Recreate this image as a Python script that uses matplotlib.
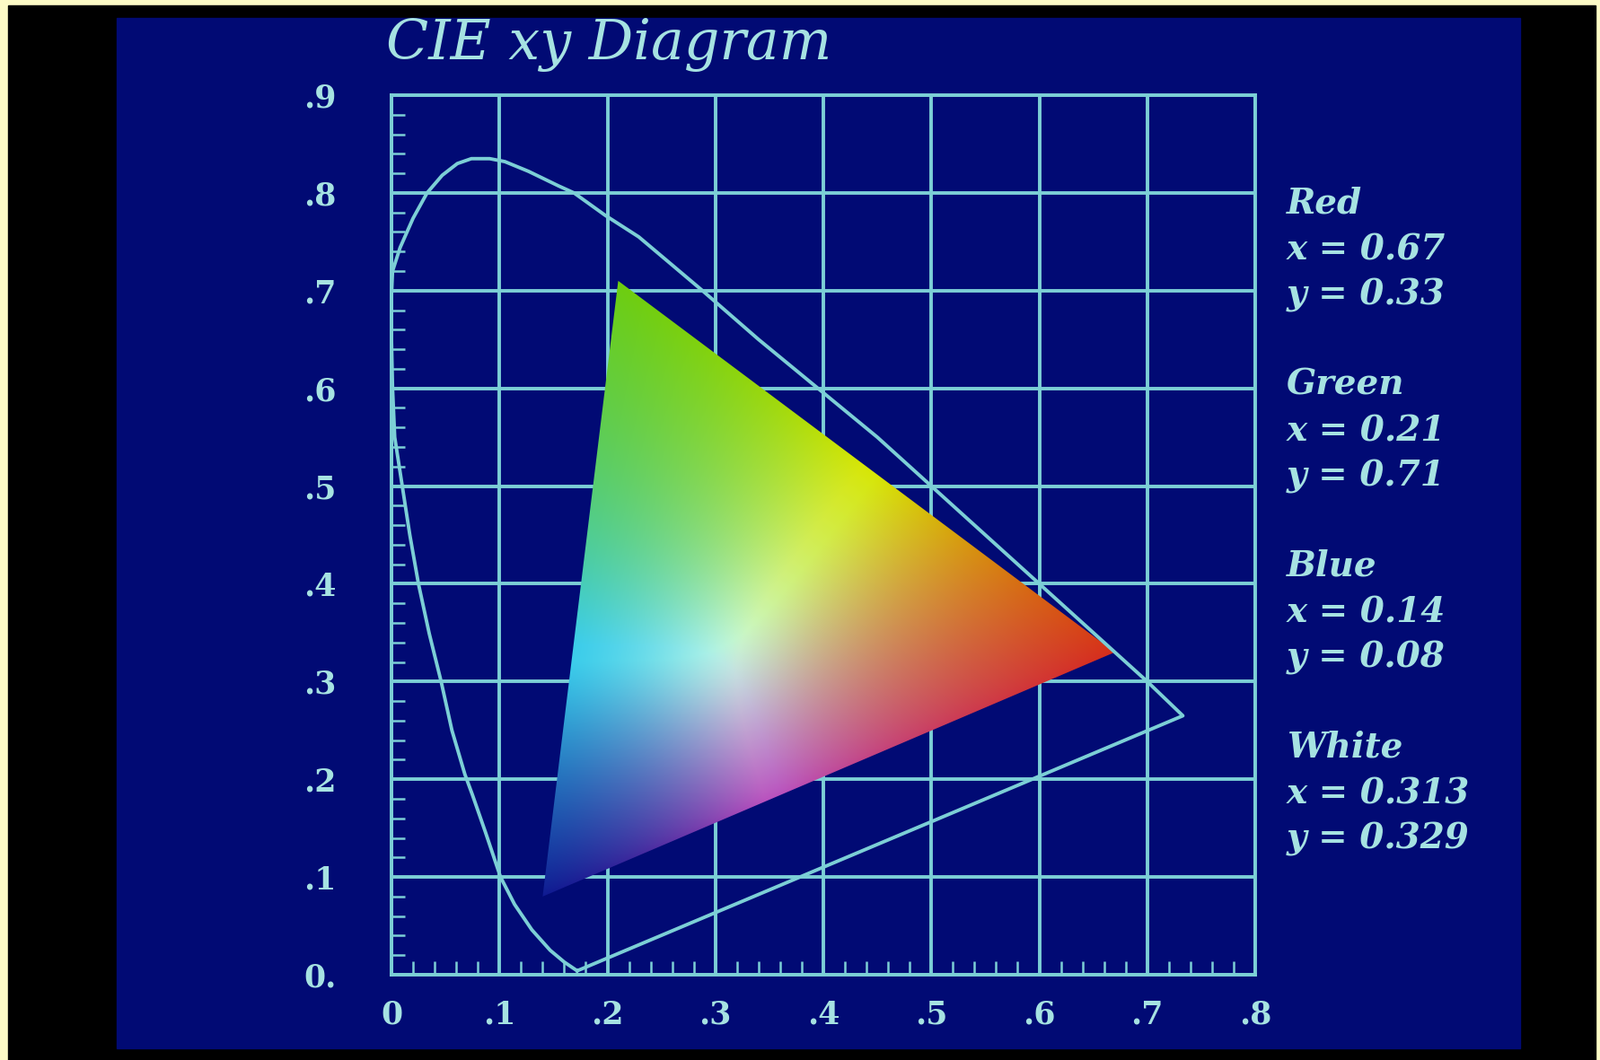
import numpy as np
import matplotlib.pyplot as plt
from matplotlib.patches import Polygon, Rectangle

# spectral locus (blue end -> up the left side -> red end)
locus_x = [0.172, 0.160, 0.147, 0.130, 0.114, 0.101, 0.087, 0.075, 0.068, 0.056,
           0.046, 0.035, 0.025, 0.017, 0.010, 0.003, 0.001, 0.000, 0.000, 0.001,
           0.008, 0.020, 0.033, 0.047, 0.061, 0.074, 0.091, 0.105, 0.127, 0.155,
           0.169, 0.198, 0.229, 0.258, 0.288, 0.340, 0.395, 0.450, 0.500, 0.550,
           0.600, 0.650, 0.700, 0.733]
locus_y = [0.004, 0.013, 0.025, 0.046, 0.072, 0.100, 0.146, 0.184, 0.205, 0.250,
           0.300, 0.349, 0.400, 0.450, 0.500, 0.550, 0.600, 0.650, 0.695, 0.720,
           0.744, 0.774, 0.800, 0.818, 0.830, 0.835, 0.835, 0.832, 0.822, 0.807,
           0.800, 0.777, 0.755, 0.728, 0.700, 0.650, 0.600, 0.550, 0.500, 0.450,
           0.400, 0.350, 0.300, 0.265]

# NTSC primaries + white point
names = ["Red", "Green", "Blue", "White"]
prim_x = [0.67, 0.21, 0.14, 0.313]
prim_y = [0.33, 0.71, 0.08, 0.329]

x_ticks = [0, 0.1, 0.2, 0.3, 0.4, 0.5, 0.6, 0.7, 0.8]
x_labels = ["0", ".1", ".2", ".3", ".4", ".5", ".6", ".7", ".8"]
y_ticks = [0, 0.1, 0.2, 0.3, 0.4, 0.5, 0.6, 0.7, 0.8, 0.9]
y_labels = ["0.", ".1", ".2", ".3", ".4", ".5", ".6", ".7", ".8", ".9"]

BLUE = "#010a74"
LINE = "#7ccfd6"
TEXT = "#a6e2e2"

# how the photo renders the corners of the rgb cube
corner_cols = {
    (0, 0, 0): (10, 10, 90),
    (1, 0, 0): (215, 45, 25),
    (0, 1, 0): (110, 205, 15),
    (0, 0, 1): (15, 25, 145),
    (1, 1, 0): (215, 230, 5),
    (0, 1, 1): (60, 205, 235),
    (1, 0, 1): (185, 80, 190),
    (1, 1, 1): (200, 250, 230),
}

fig = plt.figure(figsize=(17.83, 11.81), dpi=100, facecolor="#fdfbc6")
fig.patches.append(Rectangle((9 / 1783, 0), 1768 / 1783, 1 - 6 / 1181,
                             transform=fig.transFigure, color="black", zorder=-3))
fig.patches.append(Rectangle((130 / 1783, 1 - 1168 / 1181), 1563 / 1783, 1148 / 1181,
                             transform=fig.transFigure, color=BLUE, zorder=-2))

ax = fig.add_axes([436 / 1783, 1 - 1086 / 1181, 962 / 1783, 980 / 1181])
ax.set_facecolor(BLUE)
ax.set_xlim(0, 0.8)
ax.set_ylim(0, 0.9)

# grid
for v in x_ticks:
    ax.axvline(v, color=LINE, lw=2.8, zorder=1)
for v in y_ticks:
    ax.axhline(v, color=LINE, lw=2.8, zorder=1)
for s in ax.spines.values():
    s.set_color(LINE)
    s.set_linewidth(2.8)

ax.set_xticks(x_ticks, x_labels)
ax.set_yticks(y_ticks, y_labels)
ax.set_xticks(np.arange(0, 0.8, 0.02), minor=True)
ax.set_yticks(np.arange(0, 0.9, 0.02), minor=True)
ax.tick_params(which="major", length=0, colors=TEXT, labelsize=25)
ax.tick_params(axis="y", which="major", pad=44)
ax.tick_params(axis="x", which="major", pad=20)
ax.tick_params(which="minor", direction="in", length=11, width=1.8, color=LINE)
ax.tick_params(top=False, right=False, which="both")
for lab in ax.get_xticklabels() + ax.get_yticklabels():
    lab.set_family("DejaVu Serif")
    lab.set_fontweight("bold")

# colour triangle: xy -> NTSC rgb (white point maps to 1,1,1)
P = np.array([[x / y, 1.0, (1 - x - y) / y] for x, y in zip(prim_x[:3], prim_y[:3])]).T
wx, wy = prim_x[3], prim_y[3]
W = np.array([wx / wy, 1.0, (1 - wx - wy) / wy])
M = P * np.linalg.solve(P, W)
Minv = np.linalg.inv(M)

gx, gy = np.meshgrid(np.linspace(0.1, 0.7, 500), np.linspace(0.05, 0.75, 500))
XYZ = np.stack([gx / gy, np.ones_like(gx), (1 - gx - gy) / gy])
rgb = np.tensordot(Minv, XYZ, axes=1)
rgb = np.clip(rgb, 0, None)
# soft maximum keeps the shading free of seams
rgb = rgb / (rgb ** 5).sum(axis=0, keepdims=True) ** (1 / 5)
rgb = np.clip(rgb / rgb.max(), 0, 1) ** (1 / 1.2)
rgb = np.clip(rgb * 1.15, 0, 1)
rgb[0] = rgb[0] ** 1.4

img = np.zeros(gx.shape + (3,))
for (cr, cg, cb), col in corner_cols.items():
    w = ((rgb[0] if cr else 1 - rgb[0]) * (rgb[1] if cg else 1 - rgb[1])
         * (rgb[2] if cb else 1 - rgb[2]))
    img += w[..., None] * np.array(col) / 255.0
img = np.clip(img, 0, 1)

tri = Polygon(list(zip(prim_x[:3], prim_y[:3])), closed=True, fc="none", ec="none")
ax.add_patch(tri)
im = ax.imshow(img, extent=[0.1, 0.7, 0.05, 0.75], origin="lower",
               interpolation="bilinear", aspect="auto", zorder=2)
im.set_clip_path(tri)

# spectral locus + purple line
ax.plot(locus_x + [locus_x[0]], locus_y + [locus_y[0]], color=LINE, lw=2.8,
        solid_joinstyle="round", zorder=3, clip_on=False)

fig.text(430 / 1783, 1 - 66 / 1181, "CIE xy Diagram", family="DejaVu Serif",
         style="italic", fontsize=44.5, color=TEXT, va="baseline", ha="left")

for i, (n, px, py) in enumerate(zip(names, prim_x, prim_y)):
    lines = [n, f"x = {px}", f"y = {py}"]
    for j, t in enumerate(lines):
        fig.text(1433 / 1783, 1 - (227 + i * 202 + j * 51) / 1181, t,
                 family="DejaVu Serif", style="italic", weight="bold",
                 fontsize=28, color=TEXT, va="center", ha="left")

fig.savefig("out.png", dpi=100, facecolor=fig.get_facecolor())
